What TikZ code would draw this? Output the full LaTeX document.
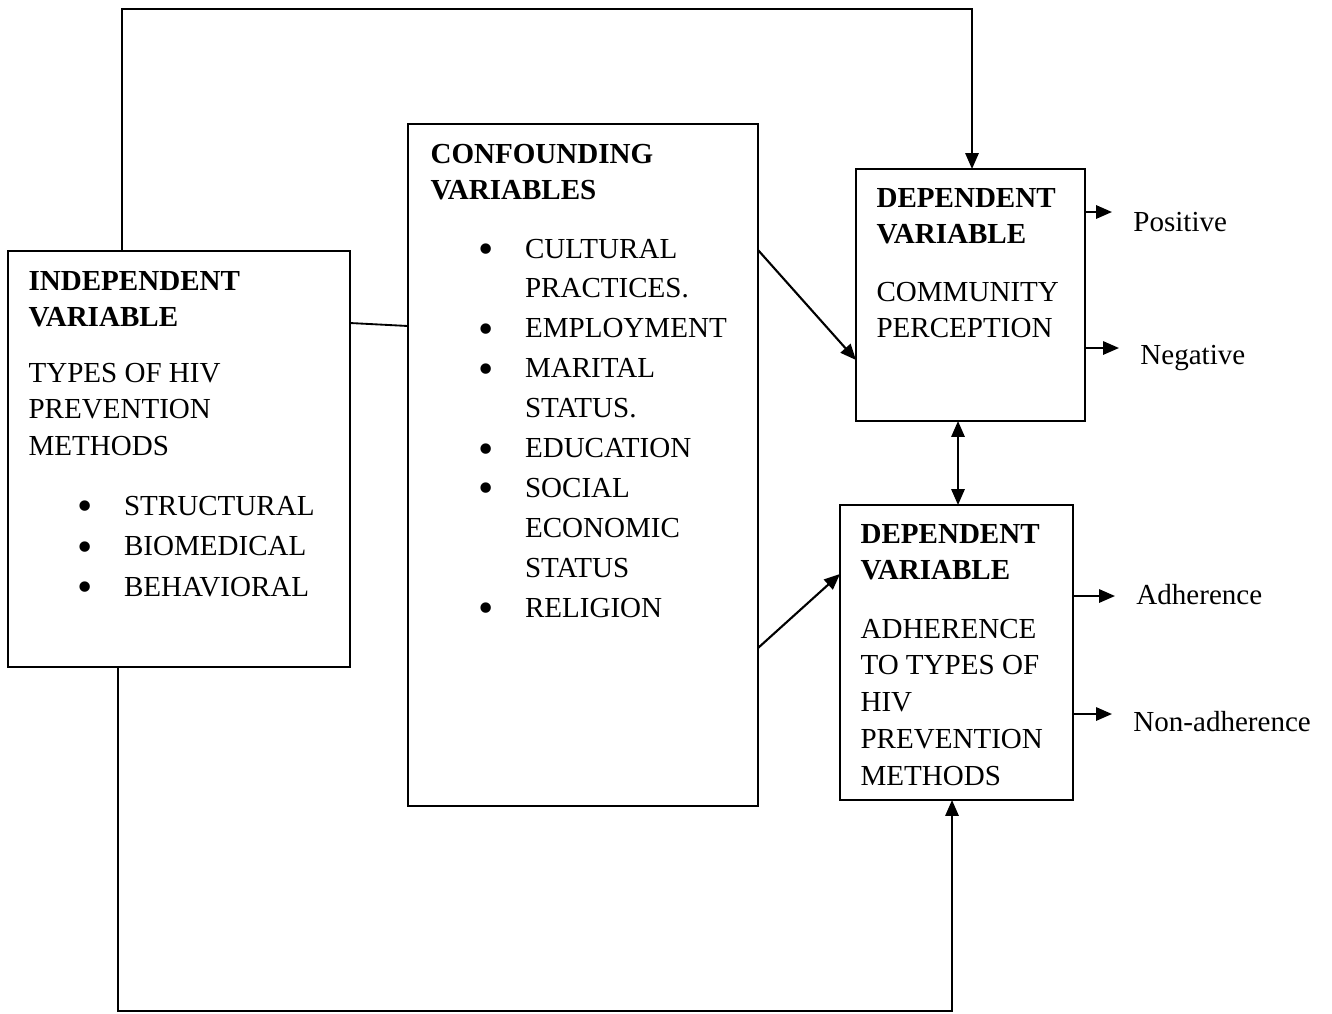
\documentclass[tikz,border=0pt]{standalone}
\usepackage{fontspec}
\setmainfont{Liberation Serif}
\usetikzlibrary{arrows.meta,fit}
\tikzset{
 cf box/.style={draw,line width=.8pt,inner sep=0pt,outer sep=0pt},
 cf text/.style={inner sep=0pt,anchor=base west,font=\fontsize{11}{14}\selectfont},
 cf out/.style={cf text,inner xsep=7.9pt},
 cf line/.style={line width=.7pt},
 cf arrow/.style={line width=.8pt,-{Triangle[length=6pt,width=5pt]}},
 cf both/.style={line width=.8pt,{Triangle[length=6pt,width=5pt]}-{Triangle[length=6pt,width=5pt]}}
}
\newcommand{\cfbul}{\makebox[17.6pt][l]{\smash{\raisebox{-.4ex}{\scalebox{1.5}{\textbullet}}}}}
\newcommand{\cfgap}{\makebox[17.6pt]{}}
\newcommand{\cfstack}[2][1]{{\renewcommand\arraystretch{#1}%
  \begin{tabular}[t]{@{}l@{}}#2\end{tabular}}}

\begin{document}
\begin{tikzpicture}[x=0.0133cm,y=-0.0133cm]
 \useasboundingbox (0,0) rectangle (1332,1013);

 % the four boxes
 \node[cf box,fit={(8,251) (350,667)}] (indep) {};
 \node[cf box,fit={(408,124) (758,806)}] (confound) {};
 \node[cf box,fit={(856,169) (1085,421)}] (depcomm) {};
 \node[cf box,fit={(840,505) (1073,800)}] (depadh) {};

 % independent variable
 \node[cf text] (indephead) at (28,290) {\bfseries\cfstack{INDEPENDENT\\VARIABLE}};
 \node[cf text] (indepbody) at (28,382) {\cfstack{TYPES OF HIV\\PREVENTION\\METHODS}};
 \node[cf text] (indeplist) at (77,515)
  {\cfstack[1.1]{\cfbul STRUCTURAL\\\cfbul BIOMEDICAL\\\cfbul BEHAVIORAL}};

 % confounding variables
 \node[cf text] (confhead) at (430,163) {\bfseries\cfstack{CONFOUNDING\\VARIABLES}};
 \node[cf text] (conflist) at (478,258)
  {\cfstack[1.08]{\cfbul CULTURAL\\\cfgap PRACTICES.\\\cfbul EMPLOYMENT\\
   \cfbul MARITAL\\\cfgap STATUS.\\\cfbul EDUCATION\\\cfbul SOCIAL\\
   \cfgap ECONOMIC\\\cfgap STATUS\\\cfbul RELIGION}};

 % dependent variables
 \node[cf text] (commhead) at (876,207) {\bfseries\cfstack{DEPENDENT\\VARIABLE}};
 \node[cf text] (commbody) at (876,301) {\cfstack{COMMUNITY\\PERCEPTION}};
 \node[cf text] (adhhead) at (860,543) {\bfseries\cfstack{DEPENDENT\\VARIABLE}};
 \node[cf text] (adhbody) at (860,638)
  {\cfstack{ADHERENCE\\TO TYPES OF\\HIV\\PREVENTION\\METHODS}};

 % outcomes
 \node[cf out] (poslbl) at (1112,231) {Positive};
 \node[cf out] (neglbl) at (1119,364) {Negative};
 \node[cf out] (adhlbl) at (1115,604) {Adherence};
 \node[cf out] (nonlbl) at (1112,731) {Non-adherence};

 % connectors
 \coordinate (topleft) at (122,9);
 \coordinate (topright) at (972,9);
 \coordinate (botleft) at (118,1011);
 \coordinate (botright) at (952,1011);
 \draw[cf arrow] (indep.north -| topleft) -- (topleft) -- (topright)
  -- (topright |- depcomm.north);
 \draw[cf arrow] (indep.south -| botleft) -- (botleft) -- (botright)
  -- (botright |- depadh.south);
 \draw[cf line] (indep.east |- 0,323) -- (confound.west |- 0,326);
 \draw[cf arrow] (confound.east |- 0,250) -- (depcomm.west |- 0,360);
 \draw[cf arrow] (confound.east |- 0,648) -- (depadh.west |- 0,574);
 \draw[cf both] (depcomm.south -| 958,0) -- (depadh.north -| 958,0);

 \draw[cf arrow] (depcomm.east |- 0,212) -- (poslbl.west |- 0,212);
 \draw[cf arrow] (depcomm.east |- 0,348) -- (neglbl.west |- 0,348);
 \draw[cf arrow] (depadh.east |- 0,596) -- (adhlbl.west |- 0,596);
 \draw[cf arrow] (depadh.east |- 0,714) -- (nonlbl.west |- 0,714);
\end{tikzpicture}
\end{document}
